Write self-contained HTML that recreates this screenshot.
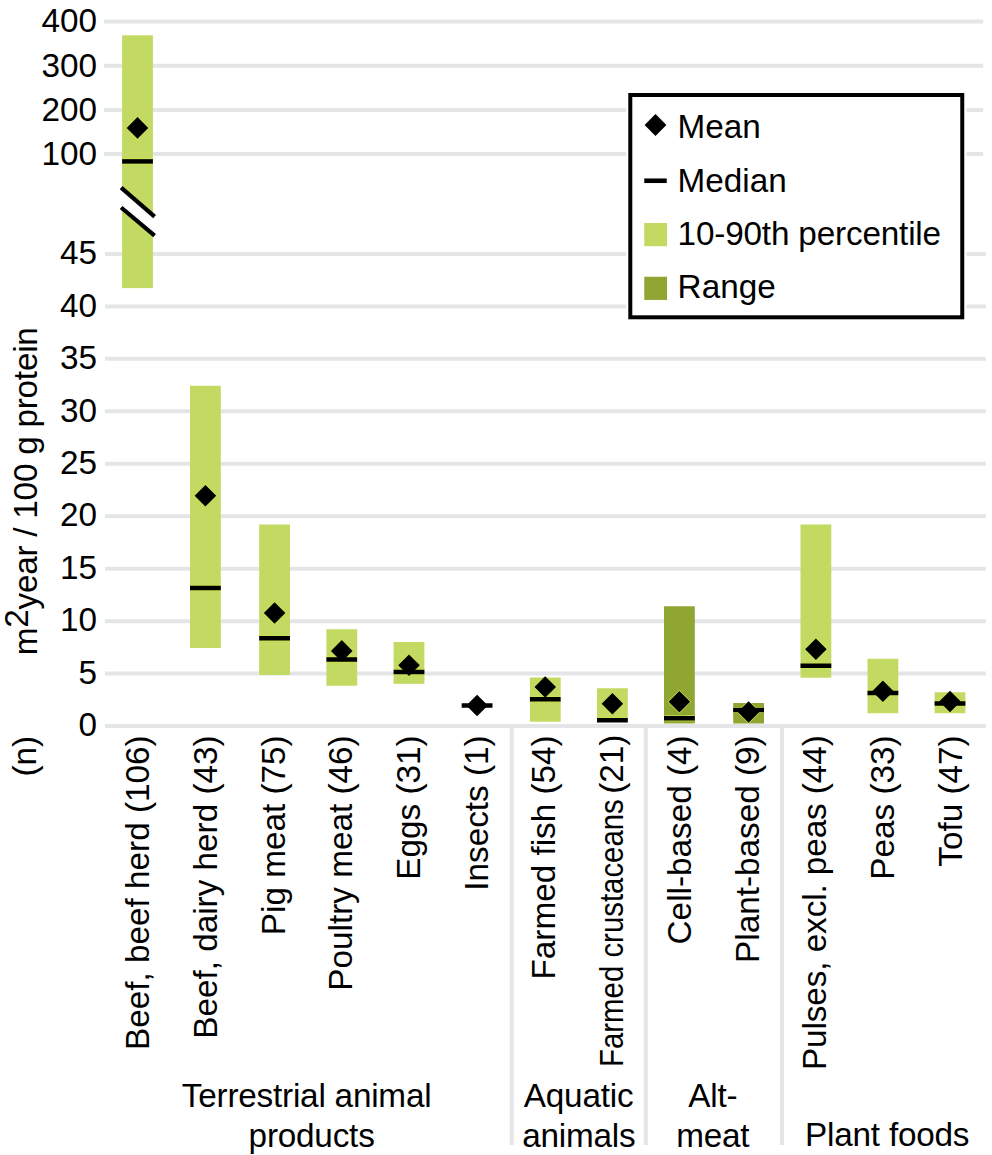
<!DOCTYPE html>
<html><head><meta charset="utf-8"><title>Land use per 100 g protein</title>
<style>
html,body{margin:0;padding:0;background:#fff;}
body{width:992px;height:1155px;overflow:hidden;}
svg{display:block;}
text{font-family:"Liberation Sans",sans-serif;font-size:33.3px;fill:#000;}
</style></head><body>
<svg width="992" height="1155" viewBox="0 0 992 1155">
<rect width="992" height="1155" fill="#fff"/>
<g stroke="#e4e5e7" stroke-width="4">
<line x1="104" x2="983.25" y1="21.55" y2="21.55"/>
<line x1="104" x2="983.25" y1="65.72" y2="65.72"/>
<line x1="104" x2="983.25" y1="109.89" y2="109.89"/>
<line x1="104" x2="983.25" y1="154.06" y2="154.06"/>
<line x1="105" x2="985.75" y1="253.9" y2="253.9"/>
<line x1="105" x2="985.75" y1="306.4" y2="306.4"/>
<line x1="105" x2="985.75" y1="358.86" y2="358.86"/>
<line x1="105" x2="985.75" y1="411.32" y2="411.32"/>
<line x1="105" x2="985.75" y1="463.77" y2="463.77"/>
<line x1="105" x2="985.75" y1="516.23" y2="516.23"/>
<line x1="105" x2="985.75" y1="568.69" y2="568.69"/>
<line x1="105" x2="985.75" y1="621.15" y2="621.15"/>
<line x1="105" x2="985.75" y1="673.6" y2="673.6"/>
<line x1="105" x2="985.75" y1="726.06" y2="726.06"/>
<line x1="511.75" x2="511.75" y1="725" y2="1145"/>
<line x1="645.75" x2="645.75" y1="725" y2="1145"/>
<line x1="782" x2="782" y1="725" y2="1145"/>
</g>
<g text-anchor="end">
<text x="97.0" y="32.35">400</text>
<text x="97.0" y="76.52">300</text>
<text x="97.0" y="120.69">200</text>
<text x="97.0" y="164.86">100</text>
<text x="97.0" y="264.10">45</text>
<text x="97.0" y="316.60">40</text>
<text x="97.0" y="369.06">35</text>
<text x="97.0" y="421.52">30</text>
<text x="97.0" y="473.97">25</text>
<text x="97.0" y="526.43">20</text>
<text x="97.0" y="578.89">15</text>
<text x="97.0" y="631.35">10</text>
<text x="97.0" y="683.80">5</text>
<text x="97.0" y="736.26">0</text>
</g>
<rect x="122.1" y="35.3" width="30.8" height="252.8" fill="#c2da62"/>
<rect x="190.0" y="385.75" width="30.8" height="262.2" fill="#c2da62"/>
<rect x="259.2" y="524.5" width="30.8" height="150.5" fill="#c2da62"/>
<rect x="326.4" y="629.25" width="30.8" height="56.5" fill="#c2da62"/>
<rect x="393.6" y="642" width="30.8" height="41.8" fill="#c2da62"/>
<rect x="529.9" y="677.5" width="30.8" height="44.2" fill="#c2da62"/>
<rect x="597.0" y="688.25" width="30.8" height="33.5" fill="#c2da62"/>
<rect x="664.0" y="606.25" width="30.8" height="117.2" fill="#8fa632"/>
<rect x="733.2" y="703" width="30.8" height="20.5" fill="#8fa632"/>
<rect x="800.5" y="524.5" width="30.8" height="153.2" fill="#c2da62"/>
<rect x="867.5" y="658.75" width="30.8" height="54.5" fill="#c2da62"/>
<rect x="934.6" y="692.25" width="30.8" height="21.0" fill="#c2da62"/>
<polygon points="121.1,187.6 154.6,216.6 154.6,235.7 121.1,207.5" fill="#fff"/>
<g stroke="#000" stroke-width="4.2"><line x1="121.1" y1="187.6" x2="154.6" y2="216.6"/><line x1="121.1" y1="207.5" x2="154.6" y2="235.7"/></g>
<clipPath id="c0"><rect x="122.1" y="35.3" width="30.8" height="252.80"/></clipPath>
<g clip-path="url(#c0)" fill="none" stroke="#cbe44a" stroke-width="1.3"><line x1="122.7" x2="152.3" y1="158.9" y2="158.9" stroke-width="1.2"/><line x1="122.7" x2="152.3" y1="163.9" y2="163.9" stroke-width="1.2"/><polygon points="137.5,117.10000000000001 148.3,127.9 137.5,138.70000000000002 126.7,127.9"/></g>
<line x1="122.1" x2="152.9" y1="161.4" y2="161.4" stroke="#000" stroke-width="4.5"/>
<polygon points="137.5,117.10000000000001 148.3,127.9 137.5,138.70000000000002 126.7,127.9" fill="#000"/>
<clipPath id="c1"><rect x="190.0" y="385.75" width="30.8" height="262.25"/></clipPath>
<g clip-path="url(#c1)" fill="none" stroke="#cbe44a" stroke-width="1.3"><line x1="190.6" x2="220.2" y1="585.5" y2="585.5" stroke-width="1.2"/><line x1="190.6" x2="220.2" y1="590.5" y2="590.5" stroke-width="1.2"/><polygon points="205.4,484.95 216.2,495.75 205.4,506.55 194.6,495.75"/></g>
<line x1="190.0" x2="220.8" y1="588" y2="588" stroke="#000" stroke-width="4.5"/>
<polygon points="205.4,484.95 216.2,495.75 205.4,506.55 194.6,495.75" fill="#000"/>
<clipPath id="c2"><rect x="259.2" y="524.5" width="30.8" height="150.50"/></clipPath>
<g clip-path="url(#c2)" fill="none" stroke="#cbe44a" stroke-width="1.3"><line x1="259.8" x2="289.4" y1="635.75" y2="635.75" stroke-width="1.2"/><line x1="259.8" x2="289.4" y1="640.75" y2="640.75" stroke-width="1.2"/><polygon points="274.6,602.2 285.4,613 274.6,623.8 263.8,613"/></g>
<line x1="259.2" x2="290.0" y1="638.25" y2="638.25" stroke="#000" stroke-width="4.5"/>
<polygon points="274.6,602.2 285.4,613 274.6,623.8 263.8,613" fill="#000"/>
<clipPath id="c3"><rect x="326.4" y="629.25" width="30.8" height="56.50"/></clipPath>
<g clip-path="url(#c3)" fill="none" stroke="#cbe44a" stroke-width="1.3"><line x1="327.0" x2="356.5" y1="657.0" y2="657.0" stroke-width="1.2"/><line x1="327.0" x2="356.5" y1="662.0" y2="662.0" stroke-width="1.2"/><polygon points="341.8,640.1 352.6,650.9 341.8,661.6999999999999 330.9,650.9"/></g>
<line x1="326.4" x2="357.1" y1="659.5" y2="659.5" stroke="#000" stroke-width="4.5"/>
<polygon points="341.8,640.1 352.6,650.9 341.8,661.6999999999999 330.9,650.9" fill="#000"/>
<clipPath id="c4"><rect x="393.6" y="642" width="30.8" height="41.75"/></clipPath>
<g clip-path="url(#c4)" fill="none" stroke="#cbe44a" stroke-width="1.3"><line x1="394.2" x2="423.8" y1="669.5" y2="669.5" stroke-width="1.2"/><line x1="394.2" x2="423.8" y1="674.5" y2="674.5" stroke-width="1.2"/><polygon points="409.0,654.45 419.8,665.25 409.0,676.05 398.2,665.25"/></g>
<line x1="393.6" x2="424.4" y1="672" y2="672" stroke="#000" stroke-width="4.5"/>
<polygon points="409.0,654.45 419.8,665.25 409.0,676.05 398.2,665.25" fill="#000"/>
<line x1="461.7" x2="492.5" y1="705.5" y2="705.5" stroke="#000" stroke-width="4.5"/>
<polygon points="477.1,694.7 487.9,705.5 477.1,716.3 466.3,705.5" fill="#000"/>
<clipPath id="c6"><rect x="529.9" y="677.5" width="30.8" height="44.25"/></clipPath>
<g clip-path="url(#c6)" fill="none" stroke="#cbe44a" stroke-width="1.3"><line x1="530.5" x2="560.0" y1="696.75" y2="696.75" stroke-width="1.2"/><line x1="530.5" x2="560.0" y1="701.75" y2="701.75" stroke-width="1.2"/><polygon points="545.2,676.2 556.0,687 545.2,697.8 534.5,687"/></g>
<line x1="529.9" x2="560.6" y1="699.25" y2="699.25" stroke="#000" stroke-width="4.5"/>
<polygon points="545.2,676.2 556.0,687 545.2,697.8 534.5,687" fill="#000"/>
<clipPath id="c7"><rect x="597.0" y="688.25" width="30.8" height="33.50"/></clipPath>
<g clip-path="url(#c7)" fill="none" stroke="#cbe44a" stroke-width="1.3"><line x1="597.6" x2="627.2" y1="717.75" y2="717.75" stroke-width="1.2"/><line x1="597.6" x2="627.2" y1="722.75" y2="722.75" stroke-width="1.2"/><polygon points="612.4,692.95 623.2,703.75 612.4,714.55 601.6,703.75"/></g>
<line x1="597.0" x2="627.8" y1="720.25" y2="720.25" stroke="#000" stroke-width="4.5"/>
<polygon points="612.4,692.95 623.2,703.75 612.4,714.55 601.6,703.75" fill="#000"/>
<clipPath id="c8"><rect x="664.0" y="606.25" width="30.8" height="117.25"/></clipPath>
<g clip-path="url(#c8)" fill="none" stroke="#cbe44a" stroke-width="1.3"><line x1="664.6" x2="694.2" y1="715.75" y2="715.75" stroke-width="1.2"/><line x1="664.6" x2="694.2" y1="720.75" y2="720.75" stroke-width="1.2"/><polygon points="679.4,690.95 690.2,701.75 679.4,712.55 668.6,701.75"/></g>
<line x1="664.0" x2="694.8" y1="718.25" y2="718.25" stroke="#000" stroke-width="4.5"/>
<polygon points="679.4,690.95 690.2,701.75 679.4,712.55 668.6,701.75" fill="#000"/>
<clipPath id="c9"><rect x="733.2" y="703" width="30.8" height="20.50"/></clipPath>
<g clip-path="url(#c9)" fill="none" stroke="#cbe44a" stroke-width="1.3"><line x1="733.8" x2="763.4" y1="707.5" y2="707.5" stroke-width="1.2"/><line x1="733.8" x2="763.4" y1="712.5" y2="712.5" stroke-width="1.2"/><polygon points="748.6,701.2 759.4,712 748.6,722.8 737.8,712"/></g>
<line x1="733.2" x2="764.0" y1="710" y2="710" stroke="#000" stroke-width="4.5"/>
<polygon points="748.6,701.2 759.4,712 748.6,722.8 737.8,712" fill="#000"/>
<clipPath id="c10"><rect x="800.5" y="524.5" width="30.8" height="153.25"/></clipPath>
<g clip-path="url(#c10)" fill="none" stroke="#cbe44a" stroke-width="1.3"><line x1="801.1" x2="830.7" y1="663.25" y2="663.25" stroke-width="1.2"/><line x1="801.1" x2="830.7" y1="668.25" y2="668.25" stroke-width="1.2"/><polygon points="815.9,638.45 826.7,649.25 815.9,660.05 805.1,649.25"/></g>
<line x1="800.5" x2="831.3" y1="665.75" y2="665.75" stroke="#000" stroke-width="4.5"/>
<polygon points="815.9,638.45 826.7,649.25 815.9,660.05 805.1,649.25" fill="#000"/>
<clipPath id="c11"><rect x="867.5" y="658.75" width="30.8" height="54.50"/></clipPath>
<g clip-path="url(#c11)" fill="none" stroke="#cbe44a" stroke-width="1.3"><line x1="868.1" x2="897.7" y1="690.5" y2="690.5" stroke-width="1.2"/><line x1="868.1" x2="897.7" y1="695.5" y2="695.5" stroke-width="1.2"/><polygon points="882.9,680.45 893.7,691.25 882.9,702.05 872.1,691.25"/></g>
<line x1="867.5" x2="898.3" y1="693" y2="693" stroke="#000" stroke-width="4.5"/>
<polygon points="882.9,680.45 893.7,691.25 882.9,702.05 872.1,691.25" fill="#000"/>
<clipPath id="c12"><rect x="934.6" y="692.25" width="30.8" height="21.00"/></clipPath>
<g clip-path="url(#c12)" fill="none" stroke="#cbe44a" stroke-width="1.3"><line x1="935.2" x2="964.8" y1="701.0" y2="701.0" stroke-width="1.2"/><line x1="935.2" x2="964.8" y1="706.0" y2="706.0" stroke-width="1.2"/><polygon points="950.0,690.7 960.8,701.5 950.0,712.3 939.2,701.5"/></g>
<line x1="934.6" x2="965.4" y1="703.5" y2="703.5" stroke="#000" stroke-width="4.5"/>
<polygon points="950.0,690.7 960.8,701.5 950.0,712.3 939.2,701.5" fill="#000"/>
<text transform="translate(148.6,735.3) rotate(-90)" text-anchor="end">Beef, beef herd (106)</text>
<text transform="translate(216.9,735.3) rotate(-90)" text-anchor="end">Beef, dairy herd (43)</text>
<text transform="translate(284.6,735.3) rotate(-90)" text-anchor="end">Pig meat (75)</text>
<text transform="translate(352.3,735.3) rotate(-90)" text-anchor="end">Poultry meat (46)</text>
<text transform="translate(420.0,735.3) rotate(-90)" text-anchor="end">Eggs (31)</text>
<text transform="translate(487.7,735.3) rotate(-90)" text-anchor="end">Insects (1)</text>
<text transform="translate(555.4,735.3) rotate(-90)" text-anchor="end">Farmed fish (54)</text>
<text transform="translate(623.1,734.6) rotate(-90)" text-anchor="end">(21)</text>
<text transform="translate(623.1,799.2) rotate(-90) scale(0.8825,1)" text-anchor="end">Farmed crustaceans</text>
<text transform="translate(690.8,735.3) rotate(-90)" text-anchor="end">Cell-based (4)</text>
<text transform="translate(758.5,735.3) rotate(-90)" text-anchor="end">Plant-based (9)</text>
<text transform="translate(826.2,735.3) rotate(-90)" text-anchor="end" letter-spacing="-0.09">Pulses, excl. peas (44)</text>
<text transform="translate(893.9,735.3) rotate(-90)" text-anchor="end">Peas (33)</text>
<text transform="translate(961.6,735.3) rotate(-90)" text-anchor="end">Tofu (47)</text>
<text transform="translate(36.4,735.9) rotate(-90)" text-anchor="end">(n)</text>
<text transform="translate(36.8,655.3) rotate(-90)" letter-spacing="-0.24">m<tspan dy="-8.4">2</tspan><tspan dy="8.4">year / 100 g protein</tspan></text>
<g text-anchor="middle" letter-spacing="-0.22">
<text x="306.6" y="1107">Terrestrial animal</text><text x="311.6" y="1146.6">products</text>
<text x="578.6" y="1107">Aquatic</text><text x="578.8" y="1146.8">animals</text>
<text x="712.8" y="1107">Alt-</text><text x="712.8" y="1146.8">meat</text>
<text x="887.2" y="1146.4">Plant foods</text>
</g>
<rect x="626.2" y="92" width="340.2" height="228.5" fill="#fff"/>
<rect x="630.3" y="95" width="331.95" height="222.3" fill="#fff" stroke="#000" stroke-width="4"/>
<polygon points="655.5,114.1 666.4,125 655.5,135.9 644.6,125" fill="#000"/>
<line x1="644.25" x2="666.75" y1="180.75" y2="180.75" stroke="#000" stroke-width="4.6"/>
<rect x="644.25" y="223" width="22.8" height="23.2" fill="#c2da62"/>
<rect x="644.25" y="276.75" width="22.8" height="23.2" fill="#8fa632"/>
<text x="677.6" y="137.75" letter-spacing="0">Mean</text>
<text x="677.6" y="191.5" letter-spacing="0">Median</text>
<text x="677.6" y="244.5" letter-spacing="-0.18">10-90th percentile</text>
<text x="677.6" y="298.25" letter-spacing="0">Range</text>
</svg></body></html>
